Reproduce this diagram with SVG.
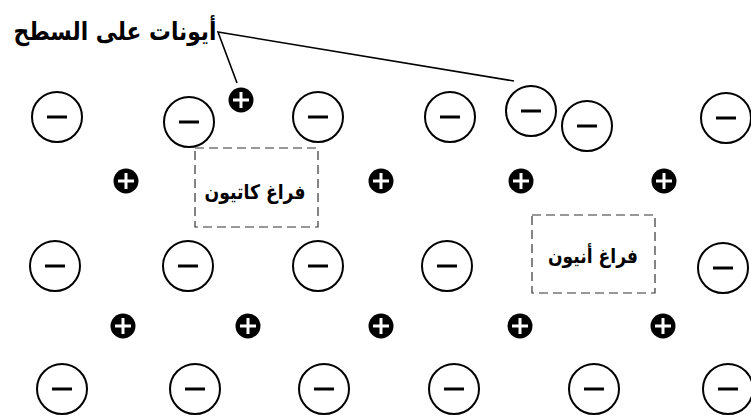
<svg xmlns="http://www.w3.org/2000/svg" xmlns:xlink="http://www.w3.org/1999/xlink" width="751" height="416" viewBox="0 0 751 416">
<defs>
<style>
.an circle{fill:#fff;stroke:#000;stroke-width:2}
.an line{stroke:#000;stroke-width:3}
.cat circle{fill:#000}
.cat path{stroke:#fff;stroke-width:3;fill:none}
.vac rect{fill:none;stroke:#333;stroke-width:1.2;stroke-dasharray:9 5}
.lbl{font-family:"DejaVu Sans","Liberation Sans",sans-serif;font-weight:bold;fill:#000;text-anchor:middle}
.lead{stroke:#000;stroke-width:1.6;fill:none}
</style>
<g id="anion-sym" class="an"><circle r="25"/><line x1="-10" y1="0" x2="10" y2="0"/></g>
<g id="cation-sym" class="cat"><circle r="12.5"/><path d="M-8 0H8M0 -8V8"/></g>
</defs>
<rect width="751" height="416" fill="#fff"/>
<g id="connectors">
<path class="lead" d="M237 83L218 32L514 81"/>
</g>
<g id="label-surface"><text class="lbl" x="115" y="40" font-size="25" direction="rtl" textLength="203" lengthAdjust="spacingAndGlyphs">أيونات على السطح</text></g>
<g id="row1">
<use id="a11" xlink:href="#anion-sym" x="57" y="117"/>
<use id="a12" xlink:href="#anion-sym" x="189" y="122"/>
<use id="c10" xlink:href="#cation-sym" x="241" y="100"/>
<use id="a13" xlink:href="#anion-sym" x="318" y="117"/>
<use id="a14" xlink:href="#anion-sym" x="450" y="117"/>
<use id="a15" xlink:href="#anion-sym" x="531" y="111"/>
<use id="a16" xlink:href="#anion-sym" x="587" y="126"/>
<use id="a17" xlink:href="#anion-sym" x="726" y="118"/>
</g>
<g id="row2">
<use id="c21" xlink:href="#cation-sym" x="126" y="181"/>
<use id="c22" xlink:href="#cation-sym" x="381" y="181"/>
<use id="c23" xlink:href="#cation-sym" x="521" y="181"/>
<use id="c24" xlink:href="#cation-sym" x="664" y="181"/>
</g>
<g id="cation-vacancy" class="vac"><rect x="195" y="148" width="123" height="79"/><text class="lbl" x="255" y="199" font-size="20" direction="rtl" textLength="101" lengthAdjust="spacingAndGlyphs">فراغ كاتيون</text></g>
<g id="row3">
<use id="a31" xlink:href="#anion-sym" x="55" y="266"/>
<use id="a32" xlink:href="#anion-sym" x="188" y="266"/>
<use id="a33" xlink:href="#anion-sym" x="318" y="266"/>
<use id="a34" xlink:href="#anion-sym" x="447" y="266"/>
<use id="a35" xlink:href="#anion-sym" x="723" y="268"/>
</g>
<g id="anion-vacancy" class="vac"><rect x="532" y="215" width="123" height="78"/><text class="lbl" x="593" y="263" font-size="20" direction="rtl" textLength="90" lengthAdjust="spacingAndGlyphs">فراغ أنيون</text></g>
<g id="row4">
<use id="c41" xlink:href="#cation-sym" x="123" y="326"/>
<use id="c42" xlink:href="#cation-sym" x="248" y="326"/>
<use id="c43" xlink:href="#cation-sym" x="381" y="326"/>
<use id="c44" xlink:href="#cation-sym" x="520" y="326"/>
<use id="c45" xlink:href="#cation-sym" x="663" y="326"/>
</g>
<g id="row5">
<use id="a51" xlink:href="#anion-sym" x="62" y="389"/>
<use id="a52" xlink:href="#anion-sym" x="195" y="389"/>
<use id="a53" xlink:href="#anion-sym" x="324" y="389"/>
<use id="a54" xlink:href="#anion-sym" x="454" y="389"/>
<use id="a55" xlink:href="#anion-sym" x="594" y="389"/>
<use id="a56" xlink:href="#anion-sym" x="728" y="389"/>
</g>
</svg>
